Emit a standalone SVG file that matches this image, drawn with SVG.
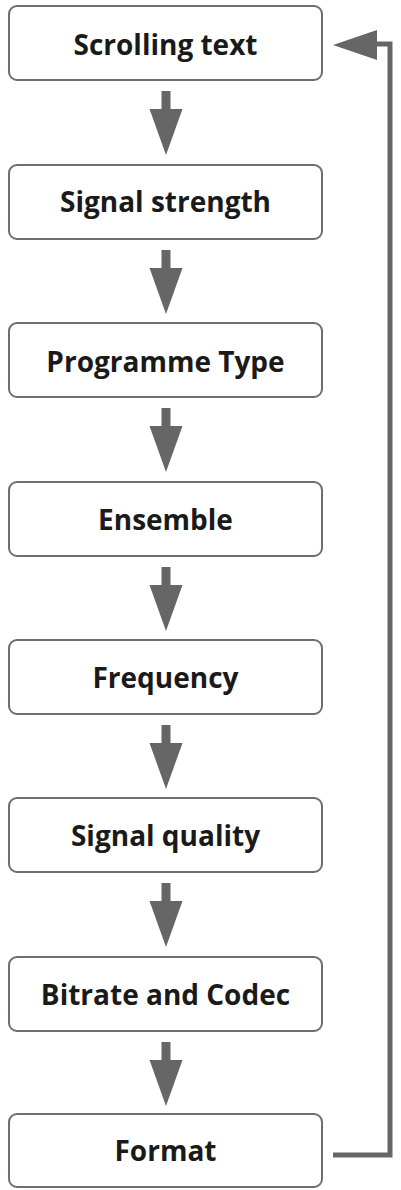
<svg xmlns="http://www.w3.org/2000/svg" width="401" height="1190" viewBox="0 0 401 1190">
<defs>
<style>
.box{fill:#fff;stroke:#6e6e6e;stroke-width:2}
.lbl{font-family:"Open Sans","Noto Sans",sans-serif;font-weight:700;font-size:28px;fill:#1a1a1a;text-anchor:middle}
.shaft{fill:#666}
.line{fill:none;stroke:#666;stroke-width:5}
</style>
<g id="arrowDown"><rect class="shaft" x="161.5" y="0" width="9" height="22"/><polygon class="shaft" points="149.5,18 182.5,18 166,64"/></g>
</defs>
<rect width="401" height="1190" fill="#fff"/>
<g id="connectors">
<use href="#arrowDown" y="91"/>
<use href="#arrowDown" y="250"/>
<use href="#arrowDown" y="408"/>
<use href="#arrowDown" y="567"/>
<use href="#arrowDown" y="725"/>
<use href="#arrowDown" y="883"/>
<use href="#arrowDown" y="1042"/>
<polyline class="line" points="333,1155 390,1155 390,44 372,44"/>
<polygon class="shaft" points="333,45 377,30 377,60"/>
</g>
<g id="n1"><rect class="box" x="9" y="6" width="313" height="74" rx="8"/><text class="lbl" x="165.5" y="55">Scrolling text</text></g>
<g id="n2"><rect class="box" x="9" y="165" width="313" height="74" rx="8"/><text class="lbl" x="165.5" y="212">Signal strength</text></g>
<g id="n3"><rect class="box" x="9" y="323" width="313" height="74" rx="8"/><text class="lbl" x="165.5" y="372">Programme Type</text></g>
<g id="n4"><rect class="box" x="9" y="482" width="313" height="74" rx="8"/><text class="lbl" x="165.5" y="530">Ensemble</text></g>
<g id="n5"><rect class="box" x="9" y="640" width="313" height="74" rx="8"/><text class="lbl" x="165.5" y="688">Frequency</text></g>
<g id="n6"><rect class="box" x="9" y="798" width="313" height="74" rx="8"/><text class="lbl" x="165.5" y="846">Signal quality</text></g>
<g id="n7"><rect class="box" x="9" y="957" width="313" height="74" rx="8"/><text class="lbl" x="165.5" y="1005">Bitrate and Codec</text></g>
<g id="n8"><rect class="box" x="9" y="1114" width="313" height="73" rx="8"/><text class="lbl" x="165.5" y="1161">Format</text></g>
</svg>
